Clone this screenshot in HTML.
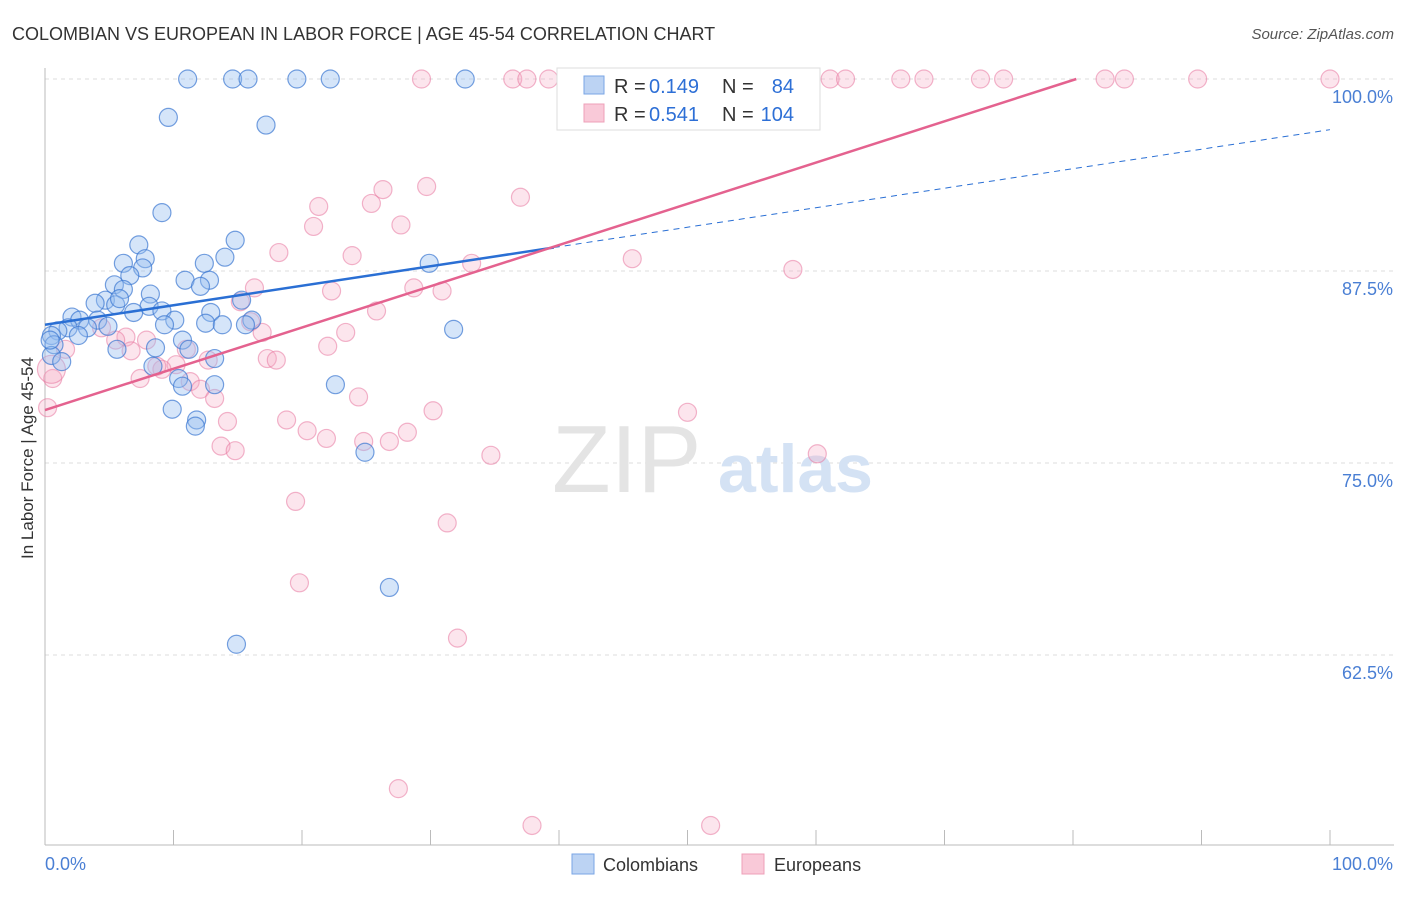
<!DOCTYPE html>
<html><head><meta charset="utf-8"><style>
body{margin:0;background:#fff;font-family:"Liberation Sans",sans-serif}
svg text{font-family:"Liberation Sans",sans-serif}
</style></head><body>
<svg width="1406" height="892">
<text x="12" y="40" font-size="18" fill="#333">COLOMBIAN VS EUROPEAN IN LABOR FORCE | AGE 45-54 CORRELATION CHART</text>
<text x="1394" y="39" font-size="15" fill="#555" font-style="italic" text-anchor="end">Source: ZipAtlas.com</text>
<text x="0" y="0" transform="translate(33,458) rotate(-90)" font-size="17" fill="#333" text-anchor="middle">In Labor Force | Age 45-54</text>
<g id="grid"></g>
<text x="552" y="492" font-size="96" fill="#e4e4e4" font-family="Liberation Serif">ZIP</text>
<text x="718" y="492" font-size="68" fill="#d4e2f4" font-weight="bold">atlas</text>
<g id="pts"></g>
<g id="lines"></g>
<g>
<rect x="557" y="68" width="263" height="62" fill="#fff" stroke="#ddd"/>
<rect x="584" y="76" width="20" height="18" fill="#bcd3f3" stroke="#7aa6e6"/>
<rect x="584" y="104" width="20" height="18" fill="#f9c9d8" stroke="#eea0b8"/>
<text x="614" y="93" font-size="20" fill="#333">R =</text>
<text x="649" y="93" font-size="20" fill="#2d6fd6">0.149</text>
<text x="722" y="93" font-size="20" fill="#333">N =</text>
<text x="794" y="93" font-size="20" fill="#2d6fd6" text-anchor="end">84</text>
<text x="614" y="121" font-size="20" fill="#333">R =</text>
<text x="649" y="121" font-size="20" fill="#2d6fd6">0.541</text>
<text x="722" y="121" font-size="20" fill="#333">N =</text>
<text x="794" y="121" font-size="20" fill="#2d6fd6" text-anchor="end">104</text>
</g>
<g>
<rect x="572" y="854" width="22" height="20" fill="#bcd3f3" stroke="#7aa6e6"/>
<text x="603" y="871" font-size="18" fill="#333">Colombians</text>
<rect x="742" y="854" width="22" height="20" fill="#f9c9d8" stroke="#eea0b8"/>
<text x="774" y="871" font-size="18" fill="#333">Europeans</text>
</g>
<text x="45" y="870" font-size="18" fill="#4a7fd4">0.0%</text>
<text x="1393" y="870" font-size="18" fill="#4a7fd4" text-anchor="end">100.0%</text>
</svg>
<script>
const yTicks=[100,87.5,75,62.5];
const yTickLabels=["100.0%","87.5%","75.0%","62.5%"];
const xTicks=[0,10,20,30,40,50,60,70,80,90,100];
const blueX=[11.1,14.6,15.8,19.6,22.2,32.7,9.6,17.2,9.1,14.8,7.3,14.0,7.8,6.1,12.4,29.9,7.6,6.6,10.9,12.8,5.4,12.1,6.1,8.2,4.7,3.9,15.3,5.5,8.1,9.1,6.9,12.9,2.1,2.7,10.1,16.1,4.1,9.3,12.5,13.8,15.6,4.9,1.8,3.3,1.0,31.8,0.5,2.6,0.7,10.7,8.6,5.6,11.2,13.2,0.5,1.3,8.4,10.4,10.7,13.2,22.6,9.9,11.8,11.7,24.9,26.8,14.9,0.4,5.8];
const blueY=[100,100,100,100,100,100,97.5,97.0,91.3,89.5,89.2,88.4,88.3,88.0,88.0,88.0,87.7,87.2,86.9,86.9,86.6,86.5,86.3,86.0,85.6,85.4,85.6,85.3,85.2,84.9,84.8,84.8,84.5,84.3,84.3,84.3,84.3,84.0,84.1,84.0,84.0,83.9,83.8,83.8,83.6,83.7,83.3,83.3,82.7,83.0,82.5,82.4,82.4,81.8,82.0,81.6,81.3,80.5,80.0,80.1,80.1,78.5,77.8,77.4,75.7,66.9,63.2,83.0,85.7];
const pinkX=[29.3,36.4,37.5,39.2,41.4,44.1,47.6,50.6,53.3,55.4,61.1,62.3,66.6,68.4,72.8,74.6,82.5,84.0,89.7,100,29.7,26.3,37.0,25.4,21.3,27.7,20.9,18.2,23.9,33.2,45.7,58.2,16.3,22.3,28.7,30.9,15.2,25.8,16.0,23.4,16.9,4.4,6.3,5.5,7.9,22.0,1.6,6.7,11.0,17.3,18.0,12.7,10.2,9.1,8.7,0.6,7.4,11.3,12.1,13.2,24.4,30.2,50.0,0.2,14.2,18.8,20.4,28.2,21.9,24.8,26.8,13.7,14.8,34.7,60.1,19.5,31.3,19.8,32.1,27.5,37.9,51.8,0.5];
const pinkY=[100,100,100,100,100,100,100,100,100,100,100,100,100,100,100,100,100,100,100,100,93.0,92.8,92.3,91.9,91.7,90.5,90.4,88.7,88.5,88.0,88.3,87.6,86.4,86.2,86.4,86.2,85.5,84.9,84.2,83.5,83.5,83.8,83.2,83.0,83.0,82.6,82.4,82.3,82.4,81.8,81.7,81.7,81.4,81.1,81.3,80.5,80.5,80.3,79.8,79.2,79.3,78.4,78.3,78.6,77.7,77.8,77.1,77.0,76.6,76.4,76.4,76.1,75.8,75.5,75.6,72.5,71.1,67.2,63.6,53.8,51.4,51.4,81.1];
const blueLine=[84.0,96.7], blueSolidEnd=39.6;
const pinkLine=[78.45,105.3];
const NS="http://www.w3.org/2000/svg";
const X=v=>45+v*12.85, Y=v=>79+(100-v)*15.36;
function mk(t,a,p){const e=document.createElementNS(NS,t);for(const k in a)e.setAttribute(k,a[k]);p.appendChild(e);return e;}
const grid=document.getElementById('grid');
yTicks.forEach((t,i)=>{
 const l=mk('line',{x1:45,x2:1394,y1:Y(t),y2:Y(t),stroke:'#ddd','stroke-dasharray':'4,4'},grid);
 
 
 const tx=mk('text',{x:1393,y:Y(t)+24,'font-size':18,fill:'#4a7fd4','text-anchor':'end'},grid);
 tx.textContent=yTickLabels[i];
 
 
});
const ax=mk('line',{x1:45,x2:1394,y1:845,y2:845,stroke:'#bbb'},grid);


const ay=mk('line',{x1:45,x2:45,y1:68,y2:845,stroke:'#bbb'},grid);


xTicks.forEach(t=>{const l=mk('line',{x1:X(t),x2:X(t),y1:830,y2:845,stroke:'#bbb'},grid);
 
 });
const pts=document.getElementById('pts');
pinkX.forEach((x,i)=>{const c=mk('circle',{cx:X(x),cy:Y(pinkY[i]),r:i==pinkX.length-1?14:9,fill:'rgba(246,170,196,0.3)',stroke:'rgba(232,120,160,0.55)','stroke-width':1.2},pts);
 
 });
blueX.forEach((x,i)=>{const c=mk('circle',{cx:X(x),cy:Y(blueY[i]),r:9,fill:'rgba(150,190,240,0.4)',stroke:'rgba(60,120,210,0.7)','stroke-width':1.2},pts);
 
 });
const lines=document.getElementById('lines');
const bAt=x=>blueLine[0]+(blueLine[1]-blueLine[0])*x/100;
const b1=mk('line',{x1:X(0),y1:Y(bAt(0)),x2:X(blueSolidEnd),y2:Y(bAt(blueSolidEnd)),stroke:'#2a6fd4','stroke-width':2.5},lines);


const b2=mk('line',{x1:X(blueSolidEnd),y1:Y(bAt(blueSolidEnd)),x2:X(100),y2:Y(bAt(100)),stroke:'#2a6fd4','stroke-width':1,'stroke-dasharray':'6,5'},lines);


const pEnd=(100-pinkLine[0])/(pinkLine[1]-pinkLine[0])*100;
const p1=mk('line',{x1:X(0),y1:Y(pinkLine[0]),x2:X(Math.min(100,pEnd)),y2:Y(Math.min(100,pinkLine[1])),stroke:'#e4628f','stroke-width':2.5},lines);


</script>
</body></html>
